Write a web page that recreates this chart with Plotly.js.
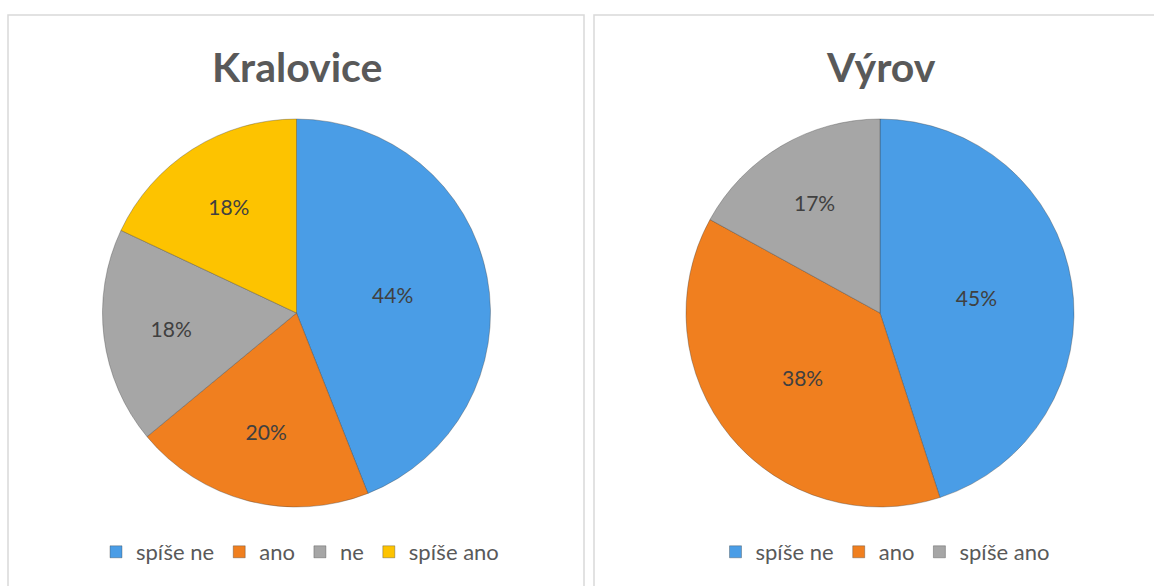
<!DOCTYPE html>
<html>
<head>
<meta charset="utf-8">
<script src="https://cdn.plot.ly/plotly-3.0.1.min.js"></script>
<style>
  html, body { margin: 0; padding: 0; background: #ffffff; }
  #chart { width: 1154px; height: 586px; }
</style>
</head>
<body>
<div id="chart"></div>
<script>
// ---- data ----
const titleLeft = "Kralovice";
const labelsLeft = ["spíše ne", "ano", "ne", "spíše ano"];
const valuesLeft = [44, 20, 18, 18];
const colorsLeft = ["#4a9de6", "#f07f1f", "#a6a6a6", "#fdc300"];

const titleRight = "Výrov";
const labelsRight = ["spíše ne", "ano", "spíše ano"];
const valuesRight = [45, 38, 17];
const colorsRight = ["#4a9de6", "#f07f1f", "#a6a6a6"];

// ---- layout helpers ----
const W = 1154, H = 586;
const R = 194;
function dom(cx, cy) {
  return {
    x: [(cx - R) / W, (cx + R) / W],
    y: [(H - cy - R) / H, (H - cy + R) / H]
  };
}

const FONT = "Lato, 'Open Sans', sans-serif";

const common = {
  type: "pie",
  sort: false,
  direction: "clockwise",
  rotation: 0,
  textinfo: "percent",
  textposition: "inside",
  insidetextorientation: "horizontal",
  textfont: { family: FONT, size: 21, color: "#404040" },
  hoverinfo: "none"
};

const traces = [
  Object.assign({}, common, {
    labels: labelsLeft,
    values: valuesLeft,
    marker: { colors: colorsLeft, line: { color: "rgba(60,60,60,0.35)", width: 1 } },
    domain: dom(296.5, 313),
    legend: "legend",
    legendgroup: "left"
  }),
  Object.assign({}, common, {
    labels: labelsRight,
    values: valuesRight,
    marker: { colors: colorsRight, line: { color: "rgba(60,60,60,0.35)", width: 1 } },
    domain: dom(880, 313),
    legend: "legend2",
    legendgroup: "right"
  })
];

const legendCommon = {
  orientation: "h",
  xanchor: "center",
  yanchor: "middle",
  y: (H - 552) / H,
  font: { family: FONT, size: 22, color: "#595959" },
  bgcolor: "rgba(0,0,0,0)",
  itemwidth: 30,
  traceorder: "normal"
};

const layout = {
  width: W,
  height: H,
  margin: { l: 0, r: 0, t: 0, b: 0 },
  paper_bgcolor: "#ffffff",
  showlegend: true,
  hovermode: false,
  legend: Object.assign({}, legendCommon, { x: 300 / W }),
  legend2: Object.assign({}, legendCommon, { x: 885 / W }),
  shapes: [
    { type: "rect", xref: "paper", yref: "paper",
      x0: 8 / W, x1: 584 / W, y0: -0.05, y1: (H - 15) / H,
      line: { color: "#d9d9d9", width: 1.5 }, fillcolor: "rgba(0,0,0,0)", layer: "below" },
    { type: "rect", xref: "paper", yref: "paper",
      x0: 594 / W, x1: 1.05, y0: -0.05, y1: (H - 15) / H,
      line: { color: "#d9d9d9", width: 1.5 }, fillcolor: "rgba(0,0,0,0)", layer: "below" }
  ],
  annotations: [
    { text: titleLeft, xref: "paper", yref: "paper", x: 297 / W, y: (H - 66) / H,
      xanchor: "center", yanchor: "middle", showarrow: false,
      font: { family: FONT, size: 41, color: "#595959", weight: "bold" } },
    { text: titleRight, xref: "paper", yref: "paper", x: 881 / W, y: (H - 66) / H,
      xanchor: "center", yanchor: "middle", showarrow: false,
      font: { family: FONT, size: 41, color: "#595959", weight: "bold" } }
  ]
};

Plotly.newPlot("chart", traces, layout, { staticPlot: true, displayModeBar: false });
</script>
</body>
</html>
